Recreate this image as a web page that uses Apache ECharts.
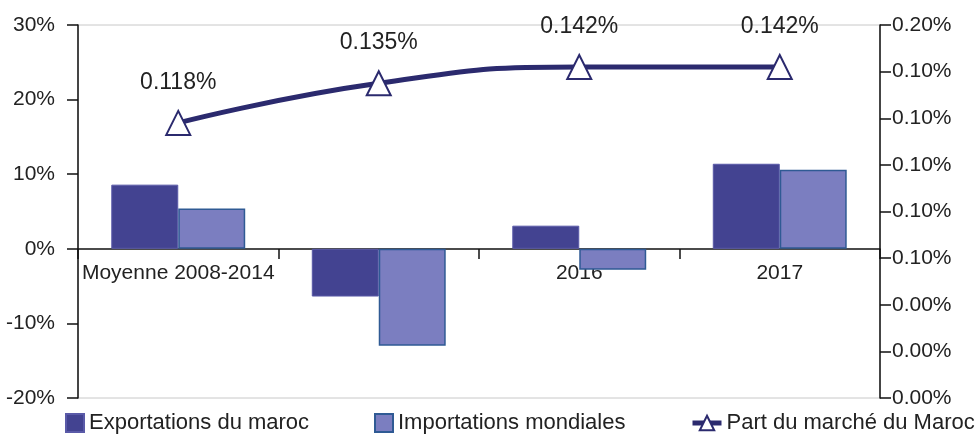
<!DOCTYPE html>
<html>
<head>
<meta charset="utf-8">
<script src="https://cdn.jsdelivr.net/npm/echarts@6/dist/echarts.min.js"></script>
<style>html,body{margin:0;padding:0;background:#fff;}#c{width:980px;height:435px;}</style>
</head>
<body>
<div id="c"></div>
<script>
var categories = ['Moyenne 2008-2014', '2015', '2016', '2017'];
var exportations = [8.6, -6.4, 3.1, 11.4];
var importations = [5.4, -13.0, -2.8, 10.6];
var partMarche = [0.118, 0.135, 0.142, 0.142];
var rightTickLabels = ['0.00%', '0.00%', '0.00%', '0.10%', '0.10%', '0.10%', '0.10%', '0.10%', '0.20%'];

var FONT = 'Liberation Sans, Arial, sans-serif';
var legendText = {fontSize: 22, color: '#222', fontFamily: FONT};
var chart = echarts.init(document.getElementById('c'), null, {renderer: 'canvas'});
chart.setOption({
  animation: false,
  textStyle: {fontFamily: FONT},
  grid: {left: 78, right: 100, top: 25, bottom: 37, show: true, borderColor: '#c8c8c8', borderWidth: 1},
  legend: [
    {left: 65, top: 412, padding: 0, itemWidth: 18, itemHeight: 18, icon: 'rect', data: ['Exportations du maroc'],
     textStyle: legendText},
    {left: 374, top: 412, padding: 0, itemWidth: 18, itemHeight: 18, icon: 'rect', data: ['Importations mondiales'],
     textStyle: legendText},
    {left: 690, top: 412, padding: 0, itemWidth: 29, itemHeight: 18, data: ['Part du marché du Maroc'],
     lineStyle: {width: 5}, itemStyle: {borderWidth: 2},
     textStyle: legendText}
  ],
  xAxis: {
    type: 'category',
    data: categories,
    offset: -149,
    axisLine: {onZero: false, lineStyle: {color: '#111', width: 1.5}},
    axisTick: {show: true, length: 10, lineStyle: {color: '#111', width: 1.5}},
    axisLabel: {fontSize: 21, color: '#222', margin: 14, fontFamily: FONT, interval: 0},
    z: 0
  },
  yAxis: [
    {
      type: 'value', min: -20, max: 30, interval: 10,
      axisLine: {show: true, lineStyle: {color: '#111', width: 1.5}},
      axisTick: {show: true, length: 11, lineStyle: {color: '#111', width: 1.5}},
      axisLabel: {formatter: '{value}%', fontSize: 21, color: '#222', margin: 23, fontFamily: FONT},
      splitLine: {show: false}
    },
    {
      type: 'value', min: 0, max: 0.16, interval: 0.02, position: 'right',
      axisLine: {show: true, lineStyle: {color: '#111', width: 1.5}},
      axisTick: {show: true, length: 11, lineStyle: {color: '#111', width: 1.5}},
      axisLabel: {
        fontSize: 21, color: '#222', margin: 12, fontFamily: FONT,
        formatter: function (v) { return rightTickLabels[Math.round(v / 0.02)]; }
      },
      splitLine: {show: false}
    }
  ],
  series: [
    {
      name: 'Exportations du maroc', type: 'bar', data: exportations, yAxisIndex: 0,
      barWidth: '33.4%', barGap: '0%',
      itemStyle: {color: '#434391', borderColor: '#5a5aa8', borderWidth: 1}
    },
    {
      name: 'Importations mondiales', type: 'bar', data: importations, yAxisIndex: 0,
      barWidth: '33.4%', barGap: '0%',
      itemStyle: {color: '#7b7ec0', borderColor: '#2f5a94', borderWidth: 1.5}
    },
    {
      name: 'Part du marché du Maroc', type: 'line', data: partMarche, yAxisIndex: 1,
      smooth: 0.5, symbol: 'triangle', symbolSize: 24,
      lineStyle: {color: '#2b2a6e', width: 5},
      itemStyle: {color: '#ffffff', borderColor: '#2b2a6e', borderWidth: 2},
      label: {
        show: true, position: 'top', distance: 16, fontSize: 23, color: '#222', fontFamily: FONT,
        formatter: function (p) { return p.value.toFixed(3) + '%'; }
      },
      z: 5
    }
  ]
});
</script>
</body>
</html>
